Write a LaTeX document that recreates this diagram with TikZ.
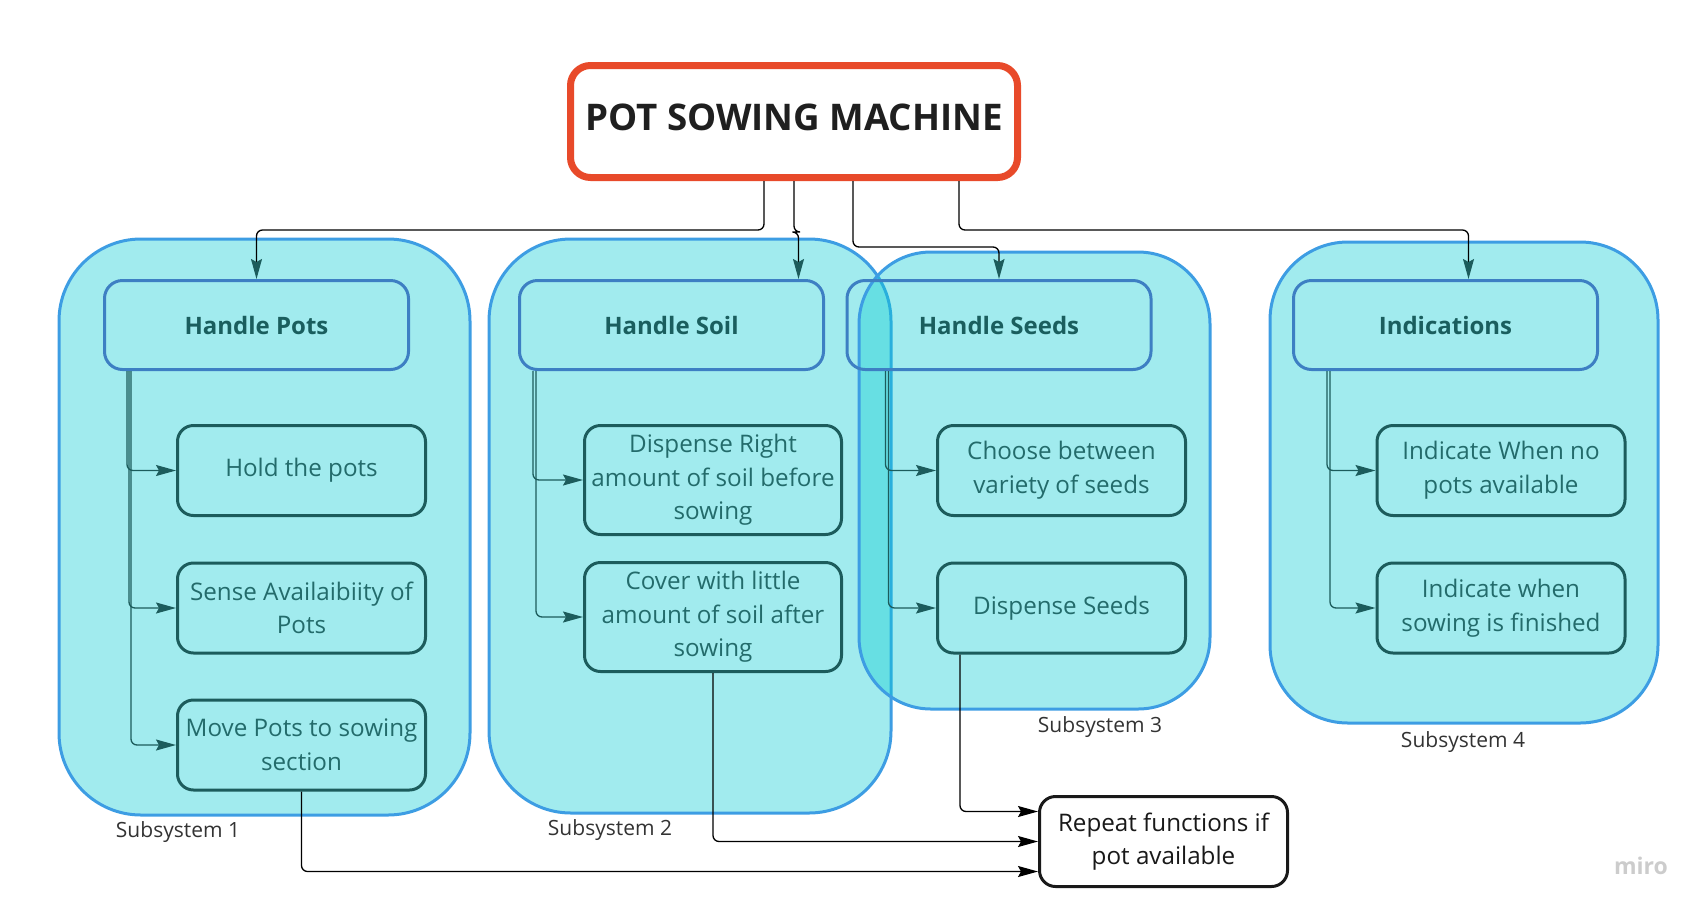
\documentclass[tikz,border=0pt]{standalone}
\usepackage{fontspec}
\setmainfont{Open Sans}
\usetikzlibrary{arrows.meta}

\definecolor{potred}{HTML}{E84A2A}
\definecolor{subblue}{HTML}{3D9DE3}
\definecolor{subfill}{RGB}{12,204,211}
\definecolor{headblue}{HTML}{3D7FC3}
\definecolor{headtext}{HTML}{1A5E5E}
\definecolor{taskteal}{HTML}{1C5C5C}
\definecolor{tasktext}{HTML}{236B6B}
\definecolor{labelgray}{HTML}{333333}

\begin{document}
\begin{tikzpicture}[x=1pt, y=-1pt,
  subsys/.style={draw=subblue, line width=3pt, fill=subfill, fill opacity=0.39},
  titlebox/.style={draw=potred, line width=7pt, rounded corners=20pt, fill=white,
    minimum width=447pt, minimum height=112pt, text depth=9pt,
    font=\fontsize{36.7}{44}\selectfont\bfseries, text=black!88},
  headbox/.style={draw=headblue, line width=3pt, rounded corners=18pt,
    minimum width=304pt, minimum height=89pt,
    font=\fontsize{24}{28}\selectfont\bfseries, text=headtext},
  taskbox/.style={draw=taskteal, line width=3pt, rounded corners=16pt,
    minimum width=248pt, minimum height=90pt, align=center,
    font=\fontsize{24.2}{33.6}\selectfont, text=tasktext},
  tallbox/.style={taskbox, minimum width=257pt, minimum height=109pt},
  endbox/.style={taskbox, draw=black!90, text=black!90, fill=white},
  sublabel/.style={font=\fontsize{21}{24}\selectfont, text=labelgray},
  feed/.style={line width=1.3pt, rounded corners=6pt,
    -{Stealth[length=20pt, width=11pt, inset=3pt, color=taskteal]}},
  branch/.style={feed, draw=taskteal},
  back/.style={line width=1.3pt, rounded corners=6pt,
    -{Stealth[length=20pt, width=11pt, inset=3pt]}}
]
  \useasboundingbox (0,0) rectangle (1708,914);

  % subsystems
  \draw[subsys, rounded corners=82pt] (59,239) rectangle (470,815);
  \draw[subsys, rounded corners=82pt] (489,239) rectangle (891,813);
  \draw[subsys, rounded corners=72pt] (859,252) rectangle (1210,709);
  \draw[subsys, rounded corners=78pt] (1270,242) rectangle (1658,723);

  \node[titlebox] (title) at (794,121.5) {POT SOWING MACHINE};

  \node[headbox] (hpots) at (256.5,325) {Handle Pots};
  \node[headbox] (hsoil) at (671.5,325) {Handle Soil};
  \node[headbox] (hseeds) at (999,325) {Handle Seeds};
  \node[headbox] (hind) at (1445.5,325) {Indications};

  \node[taskbox] (hold) at (301.5,470.5) {Hold the pots};
  \node[taskbox] (sense) at (301.5,608) {Sense Availaibiity of\\Pots};
  \node[taskbox] (move) at (301.5,745) {Move Pots to sowing\\section};
  \node[tallbox] (dispr) at (713,480) {Dispense Right\\amount of soil before\\sowing};
  \node[tallbox] (cover) at (713,617) {Cover with little\\amount of soil after\\sowing};
  \node[taskbox] (choose) at (1061.5,470.5) {Choose between\\variety of seeds};
  \node[taskbox] (dseeds) at (1061.5,608) {Dispense Seeds};
  \node[taskbox] (inone) at (1501,470.5) {Indicate When no\\pots available};
  \node[taskbox] (ifin) at (1501,608) {Indicate when\\sowing is finished};
  \node[endbox] (repeat) at (1163.5,841.5) {Repeat functions if\\pot available};

  \node[sublabel] (lab1) at (178,832) {Subsystem 1};
  \node[sublabel] (lab2) at (610,830) {Subsystem 2};
  \node[sublabel] (lab3) at (1100,727) {Subsystem 3};
  \node[sublabel] (lab4) at (1463,742) {Subsystem 4};
  \node[font=\fontsize{23}{26}\selectfont\bfseries, text=black!20] (miro) at (1641,866) {miro};

  % machine to subsystems
  \draw[feed] ([xshift=-30pt]title.south) -- ++(0,49) -| (hpots.north);
  \draw[feed] (title.south) -- ++(0,51) -| ([xshift=127pt]hsoil.north);
  \draw[feed] ([xshift=59pt]title.south) -- ++(0,66) -| (hseeds.north);
  \draw[feed] ([xshift=165pt]title.south) -- ++(0,49) -| ([xshift=23pt]hind.north);

  % functions
  \foreach \p/\c/\dx in {hpots/hold/24, hpots/sense/26, hpots/move/28,
      hsoil/dispr/15, hsoil/cover/18, hseeds/choose/40, hseeds/dseeds/43,
      hind/inone/35, hind/ifin/38}
    \draw[branch] ([xshift=\dx pt]\p.south west) |- (\c.west);

  % loop back
  \draw[back] ([xshift=-101.5pt]dseeds.south) |- ([yshift=30pt]repeat.west);
  \draw[back] (cover.south) |- (repeat.west);
  \draw[back] (move.south) |- ([yshift=-30pt]repeat.west);
\end{tikzpicture}
\end{document}
